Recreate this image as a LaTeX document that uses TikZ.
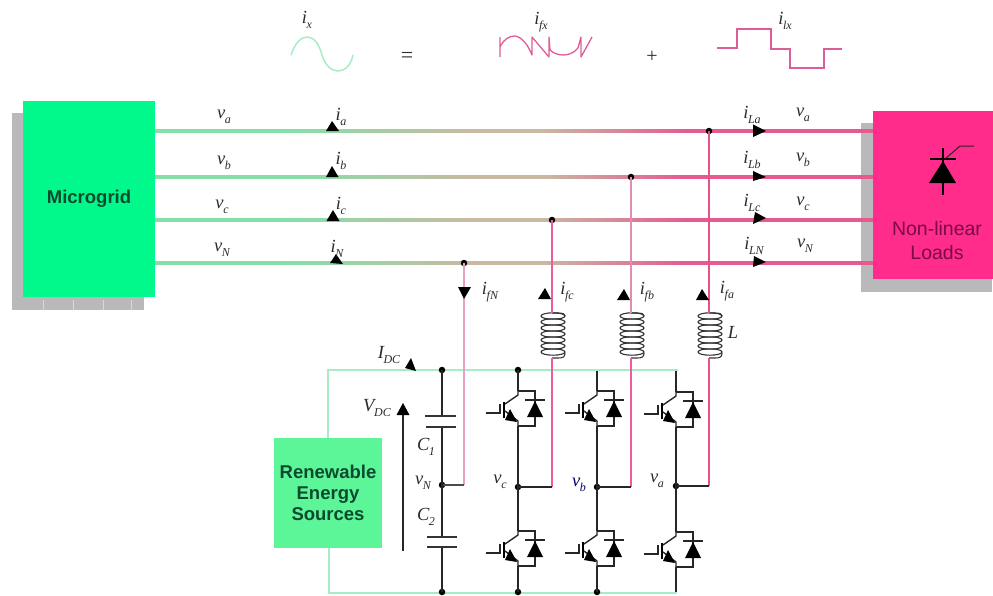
\documentclass[tikz,border=0pt]{standalone}
\usepackage{fontspec}
\setmainfont{Liberation Serif}
\setsansfont{Liberation Sans}
\usetikzlibrary{calc}
\definecolor{gridgreen}{HTML}{00F98A}
\definecolor{resgreen}{HTML}{5CF598}
\definecolor{loadpink}{HTML}{FF2C8C}
\definecolor{shadowgray}{HTML}{B9B9BB}
\definecolor{busg}{HTML}{86DFA8}
\definecolor{bust}{HTML}{C9B8A2}
\definecolor{busp}{HTML}{E65A90}
\definecolor{thing}{HTML}{A6EDC4}
\definecolor{wirea}{HTML}{E8508C}
\definecolor{wireb}{HTML}{DF8DB0}
\definecolor{wirec}{HTML}{EC5C9E}
\definecolor{wiren}{HTML}{E6A0C0}
\definecolor{wavepink}{HTML}{DE5C9A}
\definecolor{darkgreen}{HTML}{0B4A2E}
\definecolor{darkplum}{HTML}{7A0A48}
\definecolor{labgray}{HTML}{2A2A2A}
\pgfdeclarehorizontalshading{busgrad}{100bp}{color(0bp)=(busg);color(35bp)=(busg);color(47bp)=(bust);color(52bp)=(bust);color(62bp)=(busp);color(100bp)=(busp)}
\newcommand{\lbl}[2]{{\itshape #1\kern-.02em\raisebox{-.28em}{\fontsize{12}{13}\selectfont #2}}}
\newcommand{\busline}[3]{\draw[line width=#3pt,bust] (#1) -- (#2);
  \shade[shading=busgrad] ($(#1)+(0,-#3/2)$) rectangle ($(#2)+(0,#3/2)$);}
\tikzset{
  sanslab/.style={font=\sffamily\fontsize{18.5}{21}\selectfont,align=center,inner sep=0pt},
  loadlab/.style={font=\sffamily\fontsize{19.5}{24}\selectfont,align=center,inner sep=0pt},
  lab/.style={font=\fontsize{18.5}{20}\selectfont,text=labgray,inner sep=0pt},
  dot/.style={circle,fill=black,inner sep=0pt,minimum size=6.5pt},
  ckt/.style={line width=1.4pt,black!85},
  wire/.style={line width=1.8pt},
  thinbus/.style={line width=1.5pt,thing},
  shadowbox/.style={fill=shadowgray},
  igbt/.pic={
    \coordinate (-c) at (0,-18);
    \coordinate (-e) at (0,17);
    \draw[ckt] (0,-18) -- (0,-14) -- (-13,-5);
    \draw[ckt] (0,17) -- (0,12) -- (-13,2);
    \draw[line width=1.8pt,black] (-14,-7) -- (-14,9);
    \draw[ckt] (-32,4) -- (-18,4) -- (-18,-5);
    \fill[black] (-1,13) -- (-13,11) -- (-8,0) -- cycle;
    \draw[ckt] (0,-18) -- (17,-18) -- (17,17) -- (0,17);
    \fill[black] (17,-8) -- (25,8) -- (9,8) -- cycle;
    \draw[ckt] (7,-9) -- (27,-9);
  },
  coil/.pic={
    \coordinate (-t) at (0,-22);
    \coordinate (-b) at (0,23);
    \foreach \yy in {-19,-13,-7,-1,5,11,17}
      \draw[line width=1.1pt,black!80] (1,\yy) ellipse [x radius=12,y radius=3.2];
    \draw[line width=1.1pt,black!80] (0,-22) -- (6,-22) .. controls (11,-22) and (13,-21) .. (13,-19);
    \draw[line width=1.1pt,black!80] (13,18) .. controls (13,22) and (11,23) .. (6,23) -- (0,23);
  }
}
\begin{document}
\begin{tikzpicture}[x=1pt,y=-1pt]
\useasboundingbox (0,0) rectangle (993,595);
% shadows
\fill[shadowbox] (12,113) rectangle (144,310);
\foreach \xx in {43,73,103,131} \draw[white!85!black,line width=.6pt] (\xx,300) -- (\xx,310);
\fill[shadowbox] (861,123) rectangle (992,292);
% bus ends
\coordinate (La) at (155,131); \coordinate (Lb) at (155,177); \coordinate (Lc) at (155,220); \coordinate (Ln) at (155,263);
\coordinate (Ra) at (873,131); \coordinate (Rb) at (873,177); \coordinate (Rc) at (873,220); \coordinate (Rn) at (873,263);
\busline{La}{Ra}{3}
\busline{Lb}{Rb}{3}
\busline{Lc}{Rc}{3.6}
\busline{Ln}{Rn}{3}
% boxes
\node[fill=gridgreen,minimum width=132pt,minimum height=196pt,inner sep=0pt,sanslab,text=darkgreen] (mg) at (89,199) {\raisebox{3pt}{\bfseries Microgrid}};
\node[fill=loadpink,minimum width=120pt,minimum height=168pt,inner sep=0pt] (load) at (933,195) {};
\node[loadlab,text=darkplum] (loadtxt) at (937,241) {Non-linear\\Loads};
\node[fill=resgreen,minimum width=108pt,minimum height=110pt,inner sep=0pt,sanslab,text=darkgreen] (res) at (328,493) {\bfseries Renewable\\\bfseries Energy\\\bfseries Sources};
% thyristor
\fill[black] (943,161) -- (956,183) -- (929,183) -- cycle;
\draw[line width=1.3pt,black] (943,148) -- (943,195);
\draw[line width=1.3pt,black] (930,159) -- (956,159);
\draw[line width=1pt,black!85] (945,159) -- (960,146) -- (974,146);
% DC bus
\coordinate (bl) at (328,370); \coordinate (br) at (678,370);
\coordinate (dl) at (329,593); \coordinate (dr) at (677,593);
\draw[thinbus] (res.north -| bl) -- (bl) -- (br);
\draw[thinbus] (res.south -| dl) -- (dl) -- (dr);
% junctions on bus
\node[dot] (ja) at (709,131) {};
\node[dot] (jb) at (631,177) {};
\node[dot] (jc) at (552,220) {};
\node[dot] (jn) at (464,263) {};
% coils
\pic (lc) at (552,335) {coil};
\pic (lb) at (631,335) {coil};
\pic (la) at (709,335) {coil};
% mid-point dots
\node[dot] (mc) at (518,487) {};
\node[dot] (mb) at (597,487) {};
\node[dot] (ma) at (676,486) {};
\node[dot] (mn) at (442,485) {};
% wires
\coordinate (ec) at (552,487); \coordinate (eb) at (631,487); \coordinate (ea) at (709,486); \coordinate (en) at (464,485);
\draw[wire,wirec] (jc.center) -- (lc-t);
\draw[wire,wirec] (lc-b) -- (ec);
\draw[wire,wireb] (jb.center) -- (lb-t);
\draw[wire,wirec] (lb-b) -- (eb);
\draw[wire,wirea] (ja.center) -- (la-t);
\draw[wire,wirea] (la-b) -- (ea);
\draw[wire,wiren] (jn.center) -- (en);
\draw[ckt] (mc.center) -- (ec);
\draw[ckt] (mb.center) -- (eb);
\draw[ckt] (ma.center) -- (ea);
\draw[ckt,black!70] (mn.center) -- (en);
% top / bottom dots
\node[dot] (tn) at (442,370) {};
\node[dot] (tc) at (518,370) {};
\coordinate (tb) at (597,371); \coordinate (ta) at (676,371);
\node[dot] (bn) at (442,592) {};
\node[dot] (bc) at (518,592) {};
\node[dot] (bb) at (597,592) {};
\coordinate (ba) at (676,592);
% capacitors
\coordinate (c1t) at (442,416); \coordinate (c1b) at (442,427);
\coordinate (c2t) at (442,537); \coordinate (c2b) at (442,547);
\draw[ckt] (tn.center) -- (c1t);
\draw[ckt] (c1b) -- (mn.center) -- (c2t);
\draw[ckt] (c2b) -- (bn.center);
\draw[line width=1.4pt,black!80] (425,416) -- (456,416) (426,427) -- (456,427);
\draw[line width=1.4pt,black!80] (427,537) -- (457,537) (427,547) -- (457,547);
% IGBTs
\pic (uc) at (518,409) {igbt};
\pic (ub) at (597,409) {igbt};
\pic (ua) at (676,410) {igbt};
\pic (dc) at (518,549) {igbt};
\pic (db) at (597,549) {igbt};
\pic (da) at (676,550) {igbt};
\draw[ckt] (tc.center) -- (uc-c);
\draw[ckt] (tb) -- (ub-c);
\draw[ckt] (ta) -- (ua-c);
\draw[ckt] (uc-e) -- (dc-c);
\draw[ckt] (ub-e) -- (db-c);
\draw[ckt] (ua-e) -- (da-c);
\draw[ckt] (dc-e) -- (bc.center);
\draw[ckt] (db-e) -- (bb.center);
\draw[ckt] (da-e) -- (ba);
% VDC arrow
\coordinate (vb) at (403,551); \coordinate (vt) at (403,412);
\draw[line width=2.5pt,black!85] (vb) -- (vt);
\fill[black] (403,403) -- (409.5,415) -- (396.5,415) -- cycle;
% current marks
\fill[black] (332,121) -- (339,131) -- (326,131) -- cycle;
\fill[black] (332,166) -- (338.5,177) -- (326,177) -- cycle;
\fill[black] (333,210) -- (339.5,221) -- (326.5,221) -- cycle;
\fill[black] (336,254) -- (343,264) -- (330,263) -- cycle;
\fill[black] (766,131) -- (753,124.5) -- (753,137) -- cycle;
\fill[black] (766,177) -- (753,171) -- (753,181) -- cycle;
\fill[black] (766,218) -- (755,212) -- (753,224) -- cycle;
\fill[black] (766,262) -- (754,256) -- (753,267) -- cycle;
\fill[black] (464,299) -- (458,287) -- (471,287) -- cycle;
\fill[black] (545,288) -- (551,299) -- (538,299) -- cycle;
\fill[black] (624,289) -- (630,300) -- (617,300) -- cycle;
\fill[black] (702,289) -- (709,300) -- (696,300) -- cycle;
\fill[black] (416,371) -- (405,368) -- (411,358) -- cycle;
% waveforms
\draw[line width=1.5pt,thing] (291,55) .. controls (295,43) and (301,37) .. (307,37) .. controls (314,37) and (319,44) .. (322,55) .. controls (325,65) and (331,71) .. (338,71) .. controls (345,71) and (351,65) .. (353,55);
\draw[line width=1.3pt,wavepink,line join=round] (500,37) -- (500,57) (500,47) .. controls (504,39) and (509,36) .. (515,36) .. controls (522,37) and (528,45) .. (532,55) -- (532,37) -- (549,57) -- (549,37) -- (550,50) .. controls (556,56) and (570,58) .. (578,48) -- (581,37) -- (581,57) -- (592,37);
\draw[line width=1.3pt,wavepink] (717,48) -- (737,48) -- (737,29) -- (771,29) -- (771,49) -- (790,49) -- (790,68) -- (824,68) -- (824,49) -- (842,49);
% labels
\node[lab] (tix) at (307,20) {\lbl{i}{x}};
\node[lab] (tif) at (541,22) {\lbl{i}{fx}};
\node[lab] (til) at (785,21) {\lbl{i}{lx}};
\node[lab,font=\fontsize{22}{24}\selectfont] (teq) at (407,57) {=};
\node[lab,font=\fontsize{20}{22}\selectfont] (tpl) at (652,57) {+};
\node[lab] (v1) at (224,117) {\lbl{v}{a}};
\node[lab] (v2) at (224,163) {\lbl{v}{b}};
\node[lab] (v3) at (222,207) {\lbl{v}{c}};
\node[lab] (v4) at (222,250) {\lbl{v}{N}};
\node[lab] (i1) at (341,117) {\lbl{i}{a}};
\node[lab] (i2) at (341,161) {\lbl{i}{b}};
\node[lab] (i3) at (341,206) {\lbl{i}{c}};
\node[lab] (i4) at (337,249) {\lbl{i}{N}};
\node[lab] (il1) at (752,115) {\lbl{i}{La}};
\node[lab] (il2) at (752,160) {\lbl{i}{Lb}};
\node[lab] (il3) at (752,203) {\lbl{i}{Lc}};
\node[lab] (il4) at (754,246) {\lbl{i}{LN}};
\node[lab] (r1) at (803,115) {\lbl{v}{a}};
\node[lab] (r2) at (803,160) {\lbl{v}{b}};
\node[lab] (r3) at (803,204) {\lbl{v}{c}};
\node[lab] (r4) at (805,246) {\lbl{v}{N}};
\node[lab] (fn) at (490,292) {\lbl{i}{fN}};
\node[lab] (fc) at (567,292) {\lbl{i}{fc}};
\node[lab] (fb) at (647,292) {\lbl{i}{fb}};
\node[lab] (fa) at (727,291) {\lbl{i}{fa}};
\node[lab] (ll) at (733,332) {\textit{L}};
\node[lab] (idc) at (389,355) {\lbl{I}{DC}};
\node[lab] (vdc) at (377,408) {\lbl{V}{DC}};
\node[lab] (c1) at (426,447) {\lbl{C}{1}};
\node[lab] (vn) at (423,483) {\lbl{v}{N}};
\node[lab] (c2) at (426,517) {\lbl{C}{2}};
\node[lab] (vc) at (500,482) {\lbl{v}{c}};
\node[lab,text=black!60!blue] (vb2) at (579,485) {\lbl{v}{b}};
\node[lab] (va2) at (657,481) {\lbl{v}{a}};
\end{tikzpicture}
\end{document}
